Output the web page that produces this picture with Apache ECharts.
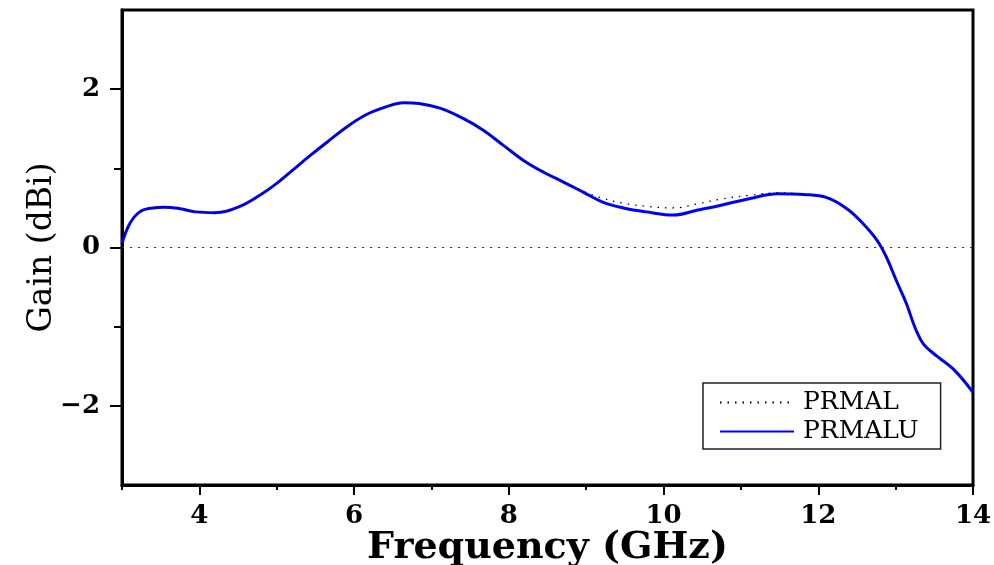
<!DOCTYPE html>
<html>
<head>
<meta charset="utf-8">
<script src="https://cdn.jsdelivr.net/npm/echarts@6/dist/echarts.min.js"></script>
<style>
  html, body { margin: 0; padding: 0; background: #fff; }
  #gain-img { width: 994px; height: 565px; }
</style>
</head>
<body>
<div id="gain-img"></div>
<script>
// frequency points (GHz)
var freq = [3.0, 3.1, 3.23, 3.4, 3.55, 3.75, 3.95, 4.2, 4.5, 4.78, 5.0, 5.21, 5.43, 5.65, 5.9, 6.16, 6.42, 6.64, 6.84,
  7.11, 7.41, 7.67, 7.93, 8.19, 8.45, 8.7, 8.96, 9.22, 9.48, 9.78, 10.13, 10.43, 10.73, 11.12, 11.48, 11.81,
  12.11, 12.37, 12.58, 12.76, 12.88, 13.01, 13.14, 13.25, 13.36, 13.53, 13.75, 14.0];
var gainPRMALU = [0.05, 0.30, 0.45, 0.50, 0.51, 0.49, 0.45, 0.44, 0.51, 0.66, 0.81, 0.98, 1.16, 1.33, 1.52, 1.68, 1.78, 1.83, 1.82,
  1.76, 1.63, 1.48, 1.29, 1.10, 0.95, 0.83, 0.70, 0.57, 0.50, 0.45, 0.41, 0.47, 0.53, 0.62, 0.68, 0.67,
  0.63, 0.49, 0.30, 0.09, -0.12, -0.42, -0.71, -1.01, -1.22, -1.37, -1.54, -1.83];
var gainPRMAL = [0.05, 0.30, 0.45, 0.50, 0.51, 0.49, 0.45, 0.44, 0.51, 0.66, 0.81, 0.98, 1.16, 1.33, 1.52, 1.68, 1.78, 1.83, 1.82,
  1.76, 1.63, 1.48, 1.29, 1.10, 0.95, 0.83, 0.71, 0.62, 0.56, 0.52, 0.50, 0.55, 0.61, 0.66, 0.69, 0.67,
  0.63, 0.49, 0.30, 0.09, -0.12, -0.42, -0.71, -1.01, -1.22, -1.38, -1.54, -1.83];
var xTickLabels = [4, 6, 8, 10, 12, 14];
var xMinorTicks = [3, 5, 7, 9, 11, 13];
var yTickLabels = [-2, 0, 2];
var yMinorTicks = [-1, 1];

function pairs(xs, ys) {
  return xs.map(function (x, i) { return [x, ys[i]]; });
}

var myChart = echarts.init(document.getElementById('gain-img'));
var labelFont = {
  color: '#000',
  fontFamily: 'DejaVu Serif',
  fontWeight: 'bold',
  fontSize: 26
};

option = {
  animation: false,
  grid: {
    left: 122,
    right: 21,
    top: 10,
    bottom: 80,
    outerBoundsMode: 'none',
    containLabel: false,
    show: true,
    borderColor: '#000',
    borderWidth: 3
  },
  legend: {
    orient: 'vertical',
    left: 703,
    top: 383,
    padding: [7, 22, 5, 16],
    itemWidth: 74,
    itemHeight: 20,
    itemGap: 4,
    borderColor: '#222',
    borderWidth: 1.5,
    itemStyle: { opacity: 0 },
    data: ['PRMAL', 'PRMALU'],
    textStyle: {
      color: '#000',
      fontFamily: 'DejaVu Serif',
      fontSize: 25,
      lineHeight: 20,
      padding: [0, 0, 0, 4]
    }
  },
  xAxis: [
    {
      type: 'value',
      min: 3,
      max: 14,
      position: 'bottom',
      name: 'Frequency (GHz)',
      nameLocation: 'middle',
      nameGap: 44,
      nameMoveOverlap: false,
      nameTextStyle: {
        color: '#000',
        fontFamily: 'DejaVu Serif',
        fontWeight: 'bold',
        fontSize: 38
      },
      splitLine: { show: false },
      axisLine: { onZero: false, lineStyle: { color: '#000', width: 3 } },
      axisTick: { customValues: xTickLabels, length: 10, lineStyle: { color: '#000', width: 2 } },
      axisLabel: Object.assign({ customValues: xTickLabels, margin: 18 }, labelFont)
    },
    {
      type: 'value',
      min: 3,
      max: 14,
      position: 'bottom',
      splitLine: { show: false },
      axisLine: { show: false, onZero: false },
      axisTick: { customValues: xMinorTicks, length: 5, lineStyle: { color: '#000', width: 2 } },
      axisLabel: { show: false }
    }
  ],
  yAxis: [
    {
      type: 'value',
      min: -3,
      max: 3,
      position: 'left',
      name: 'Gain (dBi)',
      nameLocation: 'middle',
      nameGap: 63,
      nameMoveOverlap: false,
      nameTextStyle: {
        color: '#000',
        fontFamily: 'DejaVu Serif',
        fontSize: 33
      },
      splitLine: { show: false },
      axisLine: { onZero: false, lineStyle: { color: '#000', width: 3 } },
      axisTick: { customValues: yTickLabels, length: 12, lineStyle: { color: '#000', width: 2 } },
      axisLabel: Object.assign({
        customValues: yTickLabels,
        margin: 22,
        formatter: function (v) { return String(v).replace('-', '\u2212'); }
      }, labelFont)
    },
    {
      type: 'value',
      min: -3,
      max: 3,
      position: 'left',
      splitLine: { show: false },
      axisLine: { show: false, onZero: false },
      axisTick: { customValues: yMinorTicks, length: 8, lineStyle: { color: '#000', width: 2 } },
      axisLabel: { show: false }
    }
  ],
  series: [
    {
      name: 'PRMALU',
      type: 'line',
      z: 2,
      smooth: 0.4,
      symbol: 'none',
      lineStyle: { color: '#0000ff', width: 3 },
      itemStyle: { color: '#0000ff' },
      data: pairs(freq, gainPRMALU)
    },
    {
      name: 'PRMAL',
      type: 'line',
      z: 3,
      smooth: 0.4,
      symbol: 'none',
      lineStyle: { color: '#000', width: 1.3, type: [1.5, 6] },
      itemStyle: { color: '#000' },
      data: pairs(freq, gainPRMAL),
      markLine: {
        silent: true,
        symbol: 'none',
        label: { show: false },
        lineStyle: { color: '#333', width: 1, type: [2, 6] },
        data: [{ yAxis: 0 }]
      }
    }
  ]
};
myChart.setOption(option);
</script>
</body>
</html>
